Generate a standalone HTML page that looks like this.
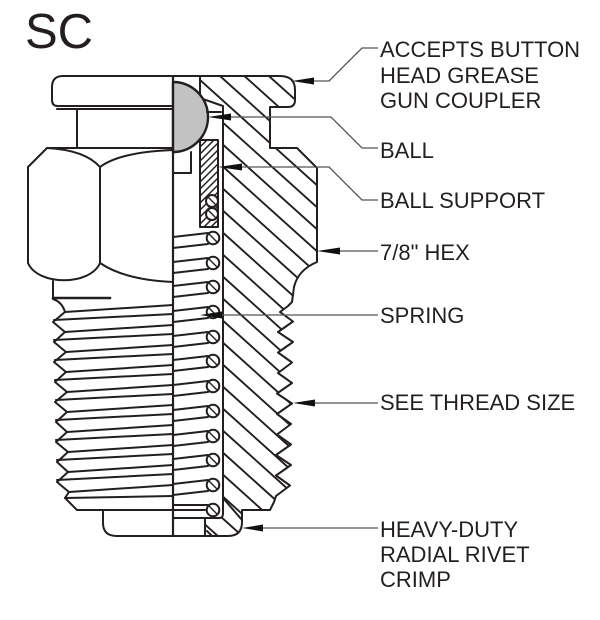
<!DOCTYPE html>
<html><head><meta charset="utf-8"><style>
html,body{margin:0;padding:0;background:#fff;width:600px;height:620px;overflow:hidden;}
svg{display:block;}
text{font-family:"Liberation Sans",Arial,sans-serif;fill:#231f20;}
</style></head><body>
<svg width="600" height="620" viewBox="0 0 600 620" xmlns="http://www.w3.org/2000/svg">
<rect width="600" height="620" fill="#fff"/>
<defs>
<clipPath id="body">
<path d="M200,76 L280,76 Q295,76 295,90 L295,100 Q295,107 288,107 L270,107 L270,148 L297,148 L317,168 L317,262 Q298,270 294,287 L292,302 L288,306 L280,312 L293,321.5 L278,332 L293,342 L278,352.5 L292,362.5 L278,373 L292,383 L277,393.5 L292,403.5 L277,414 L291,424 L277,434.5 L291,444.5 L276,455 L291,465 L276,475.5 L290,485.5 L276,496 L274,502 L270,510 L242,510 L242,522 Q242,536 228,536 L205,536 L205,518 L219,518 Q223,518 223,514 L223,106 L200,98 Z"/>
</clipPath>
<clipPath id="sup"><rect x="200" y="140" width="18" height="87"/></clipPath>
</defs>

<text x="25" y="48" font-size="49">SC</text>

<g fill="none" stroke="#231f20" stroke-width="2" stroke-linejoin="round" stroke-linecap="round">
<g clip-path="url(#body)" stroke-width="1.9">
<path d="M293.3,76 L317,97.3 M268.9,76 L317,119.3 M244.4,76 L317,141.3 M220,76 L317,163.3 M200,80 L317,185.3 M200,102 L317,207.3 M200,124 L317,229.3 M200,146 L317,251.3 M200,168 L317,273.3 M200,190 L317,295.3 M200,212 L317,317.3 M200,234 L317,339.3 M200,256 L317,361.3 M200,278 L317,383.3 M200,300 L317,405.3 M200,322 L317,427.3 M200,344 L317,449.3 M200,366 L317,471.3 M200,388 L317,493.3 M200,410 L317,515.3 M200,432 L315.6,536 M200,454 L291.1,536 M200,476 L266.7,536 M200,498 L242.2,536 M200,520 L217.8,536"/>
</g>
<path d="M200,76 L280,76 Q295,76 295,90 L295,100 Q295,107 288,107 L270,107 L270,148 L297,148 L317,168 L317,262 Q298,270 294,287 L292,302 L288,306 L280,312 L293,321.5 L278,332 L293,342 L278,352.5 L292,362.5 L278,373 L292,383 L277,393.5 L292,403.5 L277,414 L291,424 L277,434.5 L291,444.5 L276,455 L291,465 L276,475.5 L290,485.5 L276,496 L274,502 L270,510 L242,510 L242,522 Q242,536 228,536 L205,536 L205,518 L219,518 Q223,518 223,514 L223,106 L200,98 Z"/>

<path d="M200,76 L63,76 Q52,76 52,87 L52,100 Q52,106 58,106 L173,106"/>
<path d="M57,109 L173,109"/>
<path d="M77,109 L77,148"/>
<path d="M47,148 L173,148"/>
<path d="M28,263 L28,167 L47,148"/>
<path d="M47,148 Q85,150 100,167"/>
<path d="M100,167 Q120,152 173,150"/>
<path d="M100,167 L100,263"/>
<path d="M28,263 C38,286 90,286 100,263"/>
<path d="M100,263 Q125,280 173,282"/>
<path d="M53,281 L53,299 Q62,302 65,312 L53,322 L65,332 L54,342 L66,352 L54,362 L66,372 L55,382 L67,392 L55,402 L67,412 L56,422 L67,432 L56,442 L68,452 L57,462 L68,472 L57,482 L69,492 L65,498 L77,510 L205,510"/>
<path d="M53,298 L110,298" stroke-width="2.6"/>
<path d="M65,312 L173,305 M54,320 L173,314 M65,332 L173,325 M54,340 L173,334 M66,352 L173,345 M55,360 L173,354 M66,372 L173,365 M55,380 L173,374 M67,392 L173,385 M56,400 L173,394 M67,412 L173,405 M56,420 L173,414 M67,432 L173,425 M56,440 L173,434 M68,452 L173,445 M57,460 L173,454 M68,472 L173,465 M57,480 L173,474 M69,492 L173,485 M65,498 L173,496"/>
<path d="M103,510 L103,523 Q103,536 117,536 L228,536"/>
<path d="M173,76 L173,536" stroke-width="2.2"/>
<path d="M173,82 A35,35 0 0 1 173,152 Z" fill="#c2c2c2" stroke-width="2.4"/>
<path d="M173,173 L191,173 L191,152"/>
<path d="M207,112 L221,112"/>
<g clip-path="url(#sup)" stroke-width="1.5">
<path d="M200,147 L218,129 M200,154 L218,136 M200,161 L218,143 M200,168 L218,150 M200,175 L218,157 M200,182 L218,164 M200,189 L218,171 M200,196 L218,178 M200,203 L218,185 M200,210 L218,192 M200,217 L218,199 M200,224 L218,206 M200,231 L218,213 M200,238 L218,220 M200,245 L218,227"/>
</g>
<rect x="200" y="140" width="18" height="87"/>
<path d="M173,237 L208,233 M173,248 L208,244 M173,262 L208,258 M173,273 L208,269 M173,286 L208,282 M173,297 L208,293 M173,311 L208,307 M173,322 L208,318 M173,336 L208,332 M173,347 L208,343 M173,360 L208,356 M173,371 L208,367 M173,385 L208,381 M173,396 L208,392 M173,410 L208,406 M173,421 L208,417 M173,435 L208,431 M173,446 L208,442 M173,459 L208,455 M173,470 L208,466 M173,484 L208,480 M173,495 L208,491 M173,505 L208,505 M173,518 L205,518"/>
<path d="M223,498 L242,520"/>
<path d="M207,531 L212,536"/>
</g>
<g fill="#fff" stroke="#231f20" stroke-width="2">
<circle cx="212" cy="201" r="6"/><circle cx="212" cy="214" r="6"/>
<circle cx="213" cy="238" r="6.3"/><circle cx="213" cy="263" r="6.3"/><circle cx="213" cy="287" r="6.3"/><circle cx="213" cy="312" r="6.3"/><circle cx="213" cy="337" r="6.3"/><circle cx="213" cy="361" r="6.3"/><circle cx="213" cy="386" r="6.3"/><circle cx="213" cy="411" r="6.3"/><circle cx="213" cy="436" r="6.3"/><circle cx="213" cy="460" r="6.3"/><circle cx="213" cy="485" r="6.3"/><circle cx="213" cy="510" r="6.3"/>
</g>
<g stroke="#231f20" stroke-width="1.4">
<path d="M208,197 l8,8 M208,210 l8,8 M209,234 l8,8 M209,259 l8,8 M209,283 l8,8 M209,308 l8,8 M209,333 l8,8 M209,357 l8,8 M209,382 l8,8 M209,407 l8,8 M209,432 l8,8 M209,456 l8,8 M209,481 l8,8 M209,506 l8,8"/>
</g>

<g fill="none" stroke="#555" stroke-width="1.3">
<path d="M378,48 L362,48 L329,81 L300,81"/>
<path d="M378,148 L362,148 L331,117 L215,117"/>
<path d="M378,200 L362,200 L329,167 L225,167"/>
<path d="M378,251 L325,251"/>
<path d="M378,315 L210,315"/>
<path d="M378,403 L300,403"/>
<path d="M378,528 L250,528"/>
</g>
<g fill="#111">
<polygon points="292,81 314,77.5 314,84.5"/>
<polygon points="208,117 231,113.5 231,120.5"/>
<polygon points="218,167 242,163.5 242,170.5"/>
<polygon points="317,251 340,247.5 340,254.5"/>
<polygon points="200,315 222,311.5 222,318.5"/>
<polygon points="293,403 315,399.5 315,406.5"/>
<polygon points="242,528 263,524.5 263,531.5"/>
</g>

<g font-size="22">
<text x="380" y="57">ACCEPTS BUTTON</text>
<text x="380" y="83">HEAD GREASE</text>
<text x="380" y="108">GUN COUPLER</text>
<text x="380" y="158">BALL</text>
<text x="380" y="208">BALL SUPPORT</text>
<text x="380" y="260">7/8" HEX</text>
<text x="380" y="323">SPRING</text>
<text x="380" y="410">SEE THREAD SIZE</text>
<text x="380" y="537">HEAVY-DUTY</text>
<text x="380" y="562">RADIAL RIVET</text>
<text x="380" y="587">CRIMP</text>
</g>
</svg>
</body></html>
